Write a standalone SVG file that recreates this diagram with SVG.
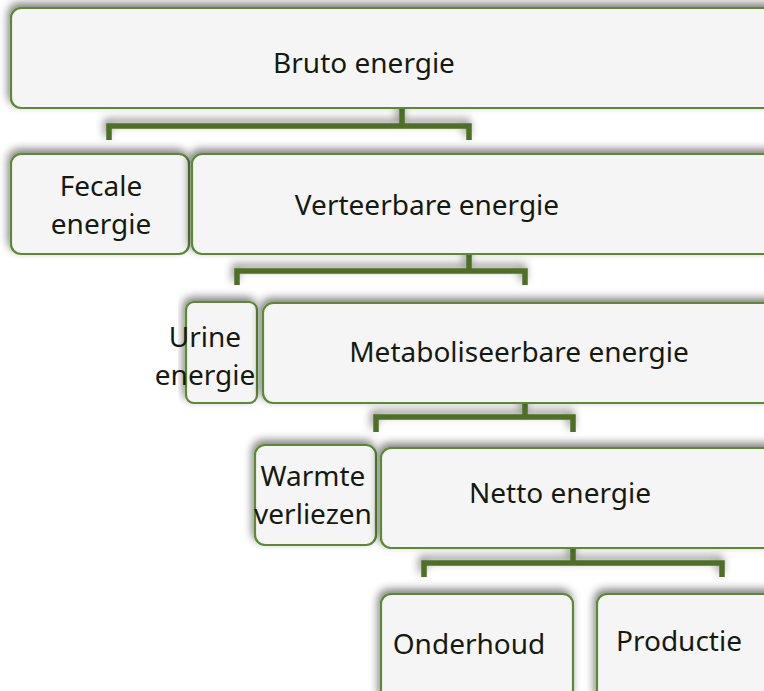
<svg xmlns="http://www.w3.org/2000/svg" width="764" height="691" viewBox="0 0 764 691">
  <defs>
    <filter id="shade" x="-10%" y="-40%" width="120%" height="180%">
      <feGaussianBlur in="SourceAlpha" stdDeviation="4"/>
      <feOffset dx="-2" dy="-4" result="blur"/>
      <feFlood flood-color="#000" flood-opacity="0.5"/>
      <feComposite in2="blur" operator="in"/>
      <feMerge>
        <feMergeNode/>
        <feMergeNode in="SourceGraphic"/>
      </feMerge>
    </filter>
  </defs>
  <style>
    .box { fill: #f5f5f5; stroke: #5a8a30; stroke-width: 2.2; filter: url(#shade); }
    .link { fill: none; stroke: #4e6f25; stroke-width: 5.5; stroke-linejoin: miter; filter: url(#shade); }
    .label { font-family: "Noto Sans", "DejaVu Sans", sans-serif; font-size: 28px; fill: #151a10; text-anchor: middle; }
  </style>
  <rect width="764" height="691" fill="#ffffff"/>

  <!-- connectors: stem from parent, bar, two drops -->
  <g id="connectors">
    <path class="link" d="M402,108 V126 M109,140 V126 H469 V140"/>
    <path class="link" d="M469,254 V271 M237,285 V271 H525 V285"/>
    <path class="link" d="M525,403 V417 M376,432 V417 H573 V432"/>
    <path class="link" d="M573,548 V563 M424,577 V563 H722 V577"/>
  </g>

  <g id="bruto">
    <rect class="box" x="11" y="8" width="780" height="100" rx="10"/>
    <text class="label" x="364" y="73">Bruto energie</text>
  </g>

  <g id="fecaal">
    <rect class="box" x="11" y="154" width="178" height="100" rx="10"/>
    <text class="label" x="101" y="196">Fecale</text>
    <text class="label" x="101" y="234">energie</text>
  </g>

  <g id="verteerbaar">
    <rect class="box" x="192" y="154" width="600" height="100" rx="10"/>
    <text class="label" x="427" y="215">Verteerbare energie</text>
  </g>

  <g id="urine">
    <rect class="box" x="186" y="302" width="71" height="101" rx="8"/>
    <text class="label" x="205" y="347">Urine</text>
    <text class="label" x="205" y="385">energie</text>
  </g>

  <g id="metaboliseerbaar">
    <rect class="box" x="263" y="303" width="530" height="100" rx="10"/>
    <text class="label" x="519" y="362">Metaboliseerbare energie</text>
  </g>

  <g id="warmte">
    <rect class="box" x="255" y="445" width="121" height="100" rx="10"/>
    <text class="label" x="313" y="486">Warmte</text>
    <text class="label" x="313" y="524">verliezen</text>
  </g>

  <g id="netto">
    <rect class="box" x="381" y="448" width="410" height="100" rx="10"/>
    <text class="label" x="560" y="503">Netto energie</text>
  </g>

  <g id="onderhoud">
    <rect class="box" x="381" y="594" width="192" height="110" rx="10"/>
    <text class="label" x="469" y="654">Onderhoud</text>
  </g>

  <g id="productie">
    <rect class="box" x="597" y="594" width="195" height="110" rx="10"/>
    <text class="label" x="679" y="651">Productie</text>
  </g>
</svg>
